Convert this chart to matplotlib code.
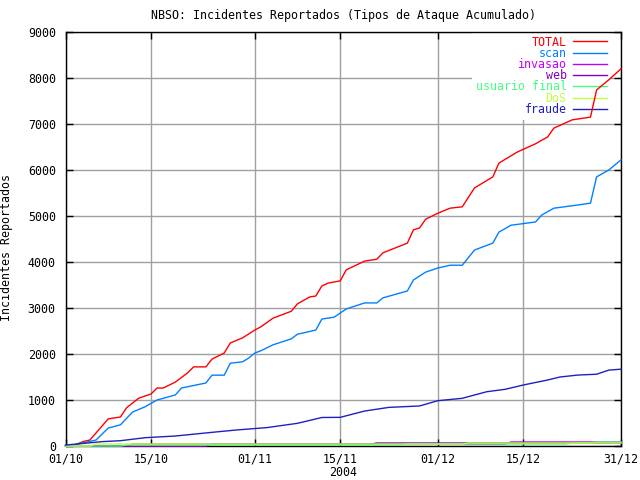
import datetime as dt
import matplotlib
matplotlib.use("Agg")
import matplotlib.pyplot as plt
import matplotlib.dates as mdates

# dias contados a partir de 01/10/2004, valores acumulados
total_days = [0, 1, 3, 4, 7, 9, 10, 12, 14, 15, 16, 18, 20, 21, 23, 24, 26, 27, 29, 31,
              32, 34, 37, 38, 40, 41, 42, 43, 45, 46, 49, 51, 52, 56, 57, 58, 59, 61, 63,
              65, 67, 70, 71, 74, 77, 79, 80, 83, 86, 87, 89, 91]
total_vals = [0, 0, 100, 130, 590, 630, 830, 1040, 1130, 1260, 1260, 1390, 1590, 1720,
              1720, 1890, 2020, 2240, 2350, 2520, 2590, 2780, 2930, 3090, 3240, 3260, 3480,
              3540, 3590, 3830, 4020, 4060, 4200, 4410, 4700, 4740, 4930, 5060, 5170, 5200,
              5610, 5850, 6150, 6390, 6570, 6720, 6910, 7090, 7150, 7740, 7960, 8200]

scan_days = [0, 2, 5, 7, 9, 11, 13, 15, 18, 19, 23, 24, 26, 27, 29, 30, 31, 32, 34, 37,
             38, 41, 42, 44, 46, 49, 51, 52, 56, 57, 59, 61, 63, 65, 67, 70, 71, 73, 77,
             78, 80, 84, 86, 87, 89, 91]
scan_vals = [0, 40, 130, 390, 460, 740, 850, 1000, 1110, 1260, 1370, 1540, 1540, 1800,
             1830, 1910, 2020, 2070, 2200, 2330, 2430, 2520, 2760, 2800, 2980, 3110, 3110,
             3220, 3370, 3610, 3780, 3870, 3930, 3930, 4260, 4410, 4650, 4800, 4870, 5020,
             5170, 5240, 5280, 5850, 6000, 6220]

invasao_days = [0, 23, 24, 72, 73, 91]
invasao_vals = [0, 0, 40, 40, 87, 87]

web_days = [0, 10, 11, 50, 51, 91]
web_vals = [0, 0, 40, 40, 65, 65]

usuario_days = [0, 9, 10, 55, 56, 82, 83, 86, 87, 91]
usuario_vals = [0, 0, 20, 20, 43, 43, 65, 65, 87, 87]

dos_days = [0, 4, 5, 65, 66, 91]
dos_vals = [0, 0, 43, 43, 65, 65]

fraude_days = [0, 6, 9, 13, 18, 24, 28, 33, 38, 42, 45, 49, 53, 58, 61, 65, 69, 72, 75,
               79, 81, 84, 87, 89, 91]
fraude_vals = [20, 95, 115, 180, 217, 297, 348, 400, 493, 620, 623, 760, 840, 870, 985,
               1037, 1180, 1232, 1326, 1435, 1500, 1543, 1560, 1650, 1670]

start = dt.date(2004, 10, 1)
tick_dates = ["01/10", "15/10", "01/11", "15/11", "01/12", "15/12", "31/12"]

FONT = "DejaVu Sans Mono"
FS = 8.4


def to_dates(days):
    return [start + dt.timedelta(days=d) for d in days]


series = [
    ("TOTAL", total_days, total_vals, "#ff0000"),
    ("scan", scan_days, scan_vals, "#0080ff"),
    ("invasao", invasao_days, invasao_vals, "#c000ff"),
    ("web", web_days, web_vals, "#8000c0"),
    ("usuario final", usuario_days, usuario_vals, "#40ff80"),
    ("DoS", dos_days, dos_vals, "#c0ff40"),
    ("fraude", fraude_days, fraude_vals, "#2020c0"),
]

fig = plt.figure(figsize=(6.4, 4.8), dpi=100)
ax = fig.add_axes([65.5 / 640, 1 - 446 / 480, (621 - 65.5) / 640, (446 - 32) / 480])

for name, days, vals, color in series:
    ax.plot(to_dates(days), vals, color=color, lw=1.0, label=name,
            zorder=3, clip_on=False)

ax.set_xlim(start, start + dt.timedelta(days=91))
ax.set_ylim(0, 9000)
ax.set_yticks(range(0, 9001, 1000))
ticks = [dt.datetime.strptime(t + "/2004", "%d/%m/%Y").date() for t in tick_dates]
ax.set_xticks(ticks)
ax.xaxis.set_major_formatter(mdates.DateFormatter("%d/%m"))

ax.set_axisbelow(True)
ax.grid(True, color="#a0a0a0", lw=1.0)
ax.tick_params(direction="in", length=5, width=1, top=True, right=True,
               labelsize=FS, pad=7)
ax.tick_params(axis="x", pad=5)
for lab in ax.get_xticklabels() + ax.get_yticklabels():
    lab.set_family(FONT)
for sp in ax.spines.values():
    sp.set_linewidth(1.0)
    sp.set_zorder(2.5)

ax.set_title("NBSO: Incidentes Reportados (Tipos de Ataque Acumulado)",
             family=FONT, fontsize=FS, pad=9)
ax.set_xlabel("2004", family=FONT, fontsize=FS)
ax.xaxis.set_label_coords(0.5, -0.048)
ax.set_ylabel("Incidentes Reportados", family=FONT, fontsize=FS)
ax.yaxis.set_label_coords(-0.095, 0.48)

leg = ax.legend(loc="upper right", bbox_to_anchor=(0.981, 1.0), markerfirst=False,
                frameon=True, fancybox=False, framealpha=1, edgecolor="none",
                facecolor="white", prop={"family": FONT, "size": FS},
                handlelength=2.9, handletextpad=0.55, labelspacing=-0.15,
                borderpad=0.3, borderaxespad=0.0)
leg.set_zorder(1.5)
for txt, (_, _, _, color) in zip(leg.get_texts(), series):
    txt.set_color(color)

fig.savefig("out.png", dpi=100)
